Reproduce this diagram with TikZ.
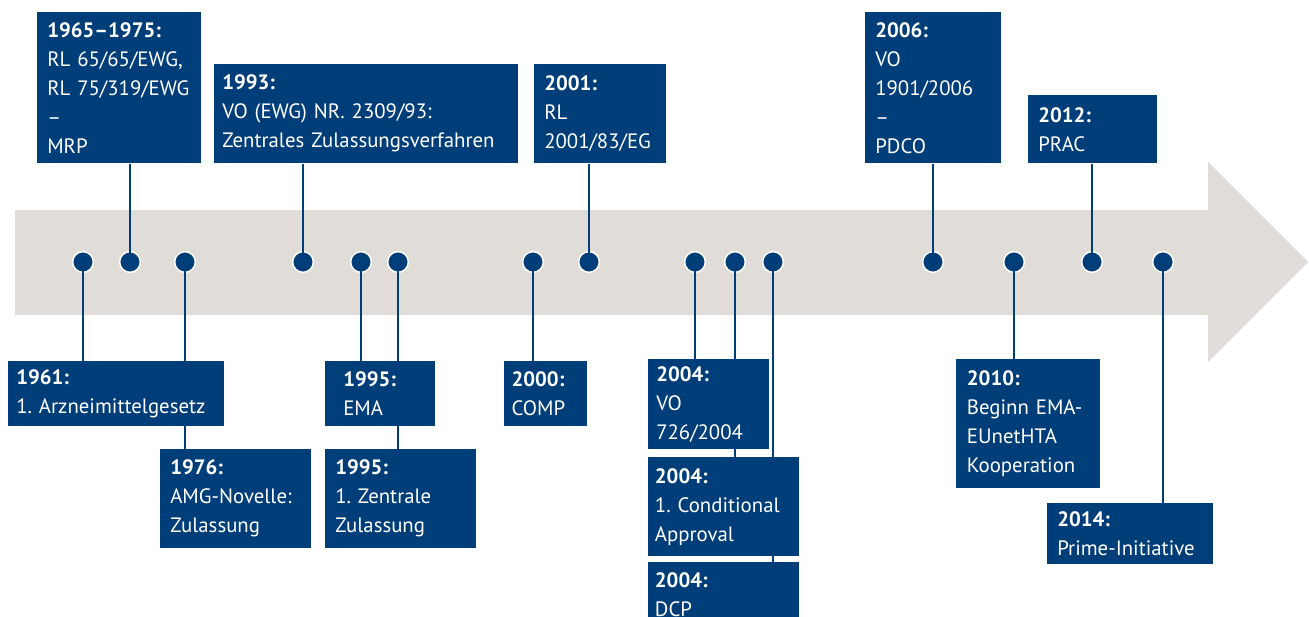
\documentclass[tikz,border=0pt]{standalone}
\usepackage{fontspec}
\setmainfont{PT Sans}
\frenchspacing
\definecolor{emablue}{RGB}{0,62,122}
\definecolor{arrowgray}{RGB}{224,221,216}
\begin{document}
\begin{tikzpicture}[x=0.75pt,y=-0.75pt,
  box/.style={fill=emablue, text=white, align=left, anchor=north west,
    inner xsep=7.5pt, inner ysep=0pt,
    font=\fontsize{15.6pt}{21.75pt}\selectfont\frenchspacing},
  dot/.style={circle, fill=emablue, draw=white, line width=1.1pt, minimum size=15.5pt, inner sep=0pt},
  conn/.style={draw=emablue, line width=2.1pt}]
\useasboundingbox (0,0) rectangle (1309,617);
\clip (0,0) rectangle (1309,617);
% arrow
\fill[arrowgray] (15,210) -- (1208,210) -- (1208,162) -- (1308,262) -- (1208,362) -- (1208,315) -- (15,315) -- cycle;
% dots (positions)
\node[dot] (d1961) at (83,262) {};
\node[dot] (d1965) at (130,262) {};
\node[dot] (d1976) at (185,262) {};
\node[dot] (d1993) at (303,262) {};
\node[dot] (d1995a) at (361,262) {};
\node[dot] (d1995b) at (398,262) {};
\node[dot] (d2000) at (533,262) {};
\node[dot] (d2001) at (589,262) {};
\node[dot] (d2004a) at (695,262) {};
\node[dot] (d2004b) at (735,262) {};
\node[dot] (d2004c) at (773,262) {};
\node[dot] (d2006) at (933,262) {};
\node[dot] (d2010) at (1014,262) {};
\node[dot] (d2012) at (1092,262) {};
\node[dot] (d2014) at (1163,262) {};
% boxes (top)
\path
 (37,12) node[box, text width=108pt, minimum height=113.25pt] (b1965) {\textbf{1965–1975:}\\RL 65/65/EWG,\\RL 75/319/EWG\\–\\MRP}
 (214,64) node[box, inner xsep=6pt, text width=216pt, minimum height=74.25pt] (b1993) {\textbf{1993:}\\VO (EWG) NR. 2309/93:\\Zentrales Zulassungsverfahren}
 (534,64) node[box, text width=84pt, minimum height=74.25pt] (b2001) {\textbf{2001:}\\RL\\2001/83/EG}
 (865,12) node[box, text width=87pt, minimum height=113.25pt] (b2006) {\textbf{2006:}\\VO\\1901/2006\\–\\PDCO}
 (1028,95) node[box, text width=81.75pt, minimum height=51pt] (b2012) {\textbf{2012:}\\PRAC};
% connectors
\draw[conn] (d1965.center) -- (d1965.center |- b1965.south);
\draw[conn] (d1993.center) -- (d1993.center |- b1993.south);
\draw[conn] (d2001.center) -- (d2001.center |- b2001.south);
\draw[conn] (d2006.center) -- (d2006.center |- b2006.south);
\draw[conn] (d2012.center) -- (d2012.center |- b2012.south);
% bottom boxes: coordinates for tops
\coordinate (t1961) at (8,361);
\coordinate (t1976) at (160,449);
\coordinate (tEMA) at (325,361);
\coordinate (tZ) at (325,449);
\coordinate (tCOMP) at (504,361);
\coordinate (tVO) at (648,359);
\coordinate (tCond) at (648,457);
\coordinate (tDCP) at (648,562);
\coordinate (t2010) at (956,359);
\coordinate (t2014) at (1047,503);
\draw[conn] (d1961.center) -- (d1961.center |- t1961);
\draw[conn] (d1976.center) -- (d1976.center |- t1976);
\draw[conn] (d1995a.center) -- (d1995a.center |- tEMA);
\draw[conn] (d1995b.center) -- (d1995b.center |- tZ);
\draw[conn] (d2000.center) -- (d2000.center |- tCOMP);
\draw[conn] (d2004a.center) -- (d2004a.center |- tVO);
\draw[conn] (d2004b.center) -- (d2004b.center |- tCond);
\draw[conn] (d2004c.center) -- (d2004c.center |- tDCP);
\draw[conn] (d2010.center) -- (d2010.center |- t2010);
\draw[conn] (d2014.center) -- (d2014.center |- t2014);
% bottom boxes
\node[box, inner xsep=6pt, text width=150pt, minimum height=48.75pt] (b1961) at (t1961) {\textbf{1961:}\\1. Arzneimittelgesetz};
\node[box, text width=98.25pt, minimum height=74.25pt] (b1976) at (t1976) {\textbf{1976:}\\AMG-Novelle:\\Zulassung};
\node[box, inner xsep=13.5pt, text width=55.5pt, minimum height=48.75pt] (bEMA) at (tEMA) {\textbf{1995:}\\EMA};
\node[box, text width=98.25pt, minimum height=74.25pt] (bZ) at (tZ) {\textbf{1995:}\\1. Zentrale\\Zulassung};
\node[box, inner xsep=5.5pt, text width=51.25pt, minimum height=48.75pt] (bCOMP) at (tCOMP) {\textbf{2000:}\\COMP};
\node[box, inner xsep=6pt, text width=78.75pt, minimum height=67.5pt] (bVO) at (tVO) {\textbf{2004:}\\VO\\726/2004};
\node[box, inner xsep=5pt, text width=103.25pt, minimum height=74.25pt] (bCond) at (tCond) {\textbf{2004:}\\1. Conditional\\Approval};
\node[box, inner xsep=5pt, text width=103.25pt, minimum height=48.75pt] (bDCP) at (tDCP) {\textbf{2004:}\\DCP};
\node[box, inner xsep=8pt, text width=92pt, minimum height=96.75pt] (b2010) at (t2010) {\textbf{2010:}\\Beginn EMA-\\EUnetHTA\\Kooperation};
\node[box, text width=109.5pt, minimum height=45.75pt] (b2014) at (t2014) {\textbf{2014:}\\Prime-Initiative};
\end{tikzpicture}
\end{document}
